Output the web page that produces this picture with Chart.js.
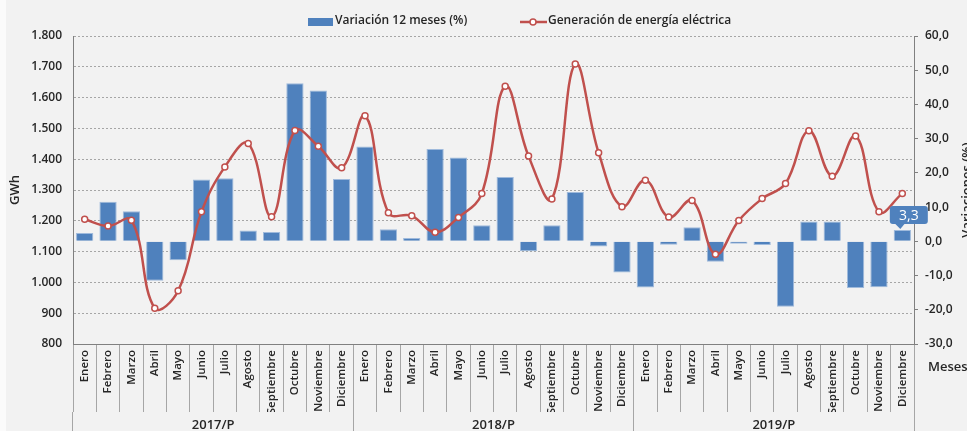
<!DOCTYPE html>
<html lang="es">
<head>
<meta charset="utf-8">
<title>Generación de energía eléctrica</title>
<script src="https://cdn.jsdelivr.net/npm/chart.js@4.4.1/dist/chart.umd.min.js"></script>
<style>
  html, body { margin: 0; padding: 0; background: #fff; }
  #wrap { width: 967px; height: 431px; }
</style>
</head>
<body>
<div id="wrap"><canvas id="myChart" width="967" height="431"></canvas></div>
<script>
const meses = ['Enero', 'Febrero', 'Marzo', 'Abril', 'Mayo', 'Junio', 'Julio', 'Agosto', 'Septiembre', 'Octubre', 'Noviembre', 'Diciembre'];
const anios = ['2017/P', '2018/P', '2019/P'];
const etiquetas = [].concat(meses, meses, meses);

// GWh
const generacion = [
  1205, 1183, 1202, 916, 973, 1229, 1375, 1451, 1213, 1493, 1442, 1372,
  1541, 1226, 1216, 1163, 1211, 1289, 1637, 1410, 1271, 1709, 1421, 1246,
  1332, 1212, 1266, 1091, 1201, 1272, 1321, 1492, 1345, 1475, 1229, 1289
];

// variacion 12 meses (%)
const variacion = [
  2.4, 11.6, 8.8, -11.5, -5.5, 18.1, 18.4, 3.2, 2.7, 46.2, 44.1, 18.2,
  27.7, 3.5, 1.0, 27.0, 24.5, 4.7, 18.8, -2.9, 4.7, 14.4, -1.5, -9.1,
  -13.5, -1.0, 4.1, -6.0, -0.7, -1.1, -19.1, 5.8, 5.8, -13.6, -13.4, 3.3
];

const fuente = "'Open Sans', 'DejaVu Sans', sans-serif";
const peso = '600';
const colorTexto = '#262626';

function formatoMiles(v) {
  const miles = Math.floor(v / 1000);
  const resto = String(Math.round(v % 1000)).padStart(3, '0');
  return miles > 0 ? miles + '.' + resto : String(v);
}

function formatoDecimal(v) {
  return (Math.round(v * 10) / 10).toFixed(1).replace('.', ',');
}

const fondo = {
  id: 'fondo',
  beforeDraw(chart) {
    const c = chart.ctx;
    c.save();
    c.fillStyle = '#fbfbfb';
    c.fillRect(0, 0, chart.width, chart.height);
    c.fillStyle = '#f2f2f2';
    c.fillRect(6, 0, chart.width - 6, chart.height);
    c.restore();
  }
};

const leyenda = {
  id: 'leyenda',
  afterDraw(chart) {
    const c = chart.ctx;
    const [barras, linea] = chart.data.datasets;
    c.save();
    c.font = peso + ' 12px ' + fuente;
    c.textBaseline = 'middle';
    c.fillStyle = barras.backgroundColor;
    c.fillRect(308, 18, 25, 8);
    c.fillStyle = colorTexto;
    c.fillText(barras.label, 335, 21);

    c.strokeStyle = linea.borderColor;
    c.lineWidth = 2.5;
    c.beginPath();
    c.moveTo(520, 22);
    c.lineTo(547, 22);
    c.stroke();
    c.beginPath();
    c.arc(533, 22, 3, 0, Math.PI * 2);
    c.fillStyle = '#fff';
    c.fill();
    c.lineWidth = 1.5;
    c.stroke();
    c.fillStyle = colorTexto;
    c.fillText(linea.label, 548, 21);
    c.restore();
  }
};

const textosExtra = {
  id: 'textosExtra',
  afterDraw(chart) {
    const c = chart.ctx;
    c.save();
    c.fillStyle = colorTexto;
    c.font = peso + ' 13px ' + fuente;
    c.textBaseline = 'middle';
    c.fillText('Meses', 928, 367);
    c.translate(971, (chart.chartArea.top + chart.chartArea.bottom) / 2);
    c.rotate(-Math.PI / 2);
    c.textAlign = 'center';
    c.textBaseline = 'alphabetic';
    c.fillText('Variaciones (%)', 0, 0);
    c.restore();
  }
};

const etiquetaFinal = {
  id: 'etiquetaFinal',
  afterDatasetsDraw(chart) {
    const i = variacion.length - 1;
    const barra = chart.getDatasetMeta(0).data[i];
    const c = chart.ctx;
    const w = 38, h = 18;
    const x0 = barra.x - 12.5;
    const y0 = barra.y - 6 - h;
    c.save();
    c.fillStyle = '#4f81bd';
    c.beginPath();
    if (c.roundRect) c.roundRect(x0, y0, w, h, 3); else c.rect(x0, y0, w, h);
    c.fill();
    c.beginPath();
    c.moveTo(barra.x - 8, y0 + h - 1);
    c.lineTo(barra.x + 3, y0 + h - 1);
    c.lineTo(barra.x - 2, barra.y - 1);
    c.closePath();
    c.fill();
    c.fillStyle = '#fff';
    c.font = '14px ' + fuente;
    c.textAlign = 'center';
    c.textBaseline = 'middle';
    c.fillText(formatoDecimal(variacion[i]), x0 + w / 2, y0 + h / 2 + 1);
    c.restore();
  }
};

const grafico = document.getElementById('myChart');
new Chart(grafico, {
  type: 'bar',
  data: {
    labels: etiquetas,
    datasets: [
      {
        type: 'bar',
        label: 'Variación 12 meses (%)',
        data: variacion,
        xAxisID: 'x',
        yAxisID: 'y1',
        backgroundColor: '#4f81bd',
        borderColor: '#9fbadc',
        borderWidth: 1,
        barPercentage: 0.74,
        categoryPercentage: 1,
        order: 2
      },
      {
        type: 'line',
        label: 'Generación de energía eléctrica',
        data: generacion,
        xAxisID: 'x',
        yAxisID: 'y',
        borderColor: '#c0504d',
        borderWidth: 2.5,
        tension: 0.4,
        pointRadius: 3,
        pointBackgroundColor: '#fff',
        pointBorderColor: '#c0504d',
        pointBorderWidth: 1.5,
        order: 1
      }
    ]
  },
  options: {
    responsive: false,
    animation: false,
    devicePixelRatio: 1,
    layout: { padding: { left: 6, right: 0, top: 36, bottom: 0 } },
    plugins: {
      legend: { display: false },
      tooltip: { enabled: false }
    },
    scales: {
      x: {
        type: 'category',
        position: 'bottom',
        offset: true,
        weight: 0,
        grid: { display: true, drawOnChartArea: false, offset: true, tickLength: 68, color: '#a6a6a6' },
        border: { display: true, color: '#808080' },
        ticks: {
          autoSkip: false, minRotation: 90, maxRotation: 90, padding: -62,
          color: colorTexto, font: { family: fuente, size: 11.5, weight: peso }
        },
        afterFit: s => { s.height = 68; }
      },
      x2: {
        type: 'category',
        position: 'bottom',
        labels: anios,
        offset: true,
        weight: 1,
        grid: { display: true, drawOnChartArea: false, offset: true, tickLength: 19, color: '#a6a6a6' },
        border: { display: false },
        ticks: { padding: -14, color: colorTexto, font: { family: fuente, size: 13, weight: peso } },
        afterFit: s => { s.height = 19; }
      },
      y: {
        position: 'left',
        min: 800,
        max: 1800,
        ticks: {
          stepSize: 100, padding: 11, color: colorTexto,
          font: { family: fuente, size: 12, weight: peso },
          callback: v => formatoMiles(v)
        },
        grid: { drawTicks: false, color: '#a6a6a6' },
        border: { display: true, color: '#808080', dash: [2, 2] },
        title: {
          display: true, text: 'GWh', color: colorTexto,
          font: { family: fuente, size: 13, weight: peso }, padding: { top: 1, bottom: 0 }
        },
        afterFit: s => { s.width = 67; }
      },
      y1: {
        position: 'right',
        min: -30,
        max: 60,
        ticks: {
          stepSize: 10, padding: 7, color: colorTexto,
          font: { family: fuente, size: 12, weight: peso },
          callback: v => formatoDecimal(v)
        },
        grid: { drawOnChartArea: false, drawTicks: true, tickLength: 4, tickColor: '#808080' },
        border: { display: true, color: '#808080' },
        afterFit: s => { s.width = 53; }
      }
    }
  },
  plugins: [fondo, leyenda, textosExtra, etiquetaFinal]
});
</script>
</body>
</html>
